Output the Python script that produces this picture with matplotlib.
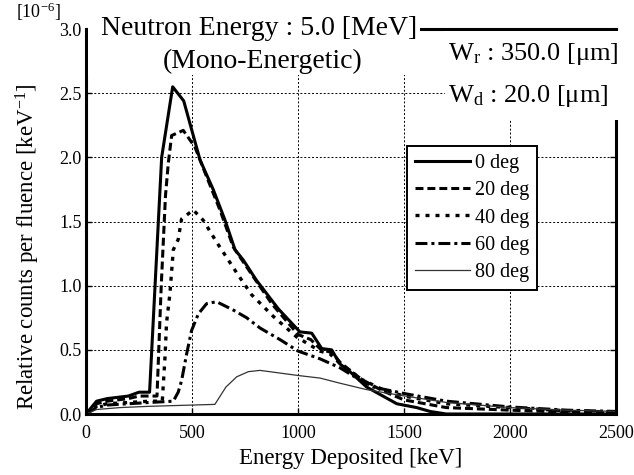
import numpy as np
import matplotlib
matplotlib.use("Agg")
import matplotlib.pyplot as plt
from matplotlib.patches import Rectangle
from matplotlib.ticker import FormatStrFormatter

# energy deposited [keV] and relative counts [1e-6 / keV] per incidence angle
e_0 = [0, 50, 100, 200, 250, 300, 357, 409, 461, 538, 600, 656, 703, 742, 805, 907,
       1009, 1065, 1112, 1159, 1198, 1245, 1324, 1466, 1560, 1623, 1700, 2500]
c_0 = [0, 0.10, 0.12, 0.14, 0.17, 0.17, 2.0, 2.55, 2.44, 1.98, 1.75, 1.51, 1.28, 1.2, 1.04, 0.82,
       0.64, 0.63, 0.51, 0.50, 0.39, 0.33, 0.21, 0.08, 0.05, 0.02, 0.0, 0.0]

e_20 = [0, 50, 100, 200, 250, 335, 355, 375, 388, 404, 459, 514, 569, 632, 695, 789, 876,
        1000, 1060, 1110, 1160, 1200, 1300, 1400, 1500, 1700, 2000, 2270, 2500]
c_20 = [0, 0.08, 0.10, 0.12, 0.14, 0.14, 1.0, 1.7, 1.95, 2.17, 2.21, 2.08, 1.85, 1.59, 1.30, 1.07, 0.86,
        0.62, 0.58, 0.50, 0.48, 0.40, 0.27, 0.18, 0.11, 0.05, 0.03, 0.015, 0.01]

e_40 = [0, 50, 100, 200, 300, 360, 373, 380, 396, 412, 435, 451, 506, 553, 616, 711, 781, 884,
        994, 1104, 1150, 1200, 1300, 1400, 1500, 1700, 2000, 2270, 2500]
c_40 = [0, 0.06, 0.08, 0.09, 0.10, 0.10, 0.45, 0.71, 0.94, 1.28, 1.36, 1.52, 1.59, 1.51, 1.34, 1.10, 0.93, 0.76,
        0.60, 0.49, 0.47, 0.39, 0.27, 0.19, 0.14, 0.08, 0.05, 0.025, 0.015]

e_60 = [0, 50, 100, 200, 300, 412, 435, 451, 475, 498, 530, 569, 616, 695, 758, 821, 915,
        1001, 1104, 1198, 1292, 1355, 1500, 1700, 2000, 2270, 2500]
c_60 = [0, 0.05, 0.07, 0.08, 0.09, 0.10, 0.17, 0.26, 0.47, 0.65, 0.78, 0.86, 0.875, 0.81, 0.75, 0.67, 0.58,
        0.49, 0.43, 0.36, 0.265, 0.21, 0.16, 0.10, 0.055, 0.03, 0.02]

e_80 = [0, 50, 160, 300, 608, 660, 711, 766, 821, 1001, 1104, 1198, 1324, 1466, 1700, 2000, 2270, 2500]
c_80 = [0, 0.035, 0.05, 0.06, 0.075, 0.21, 0.29, 0.33, 0.34, 0.30, 0.28, 0.24, 0.19, 0.15, 0.09, 0.05, 0.03, 0.02]

x_ticks = [0, 500, 1000, 1500, 2000, 2500]
y_ticks = [0.0, 0.5, 1.0, 1.5, 2.0, 2.5, 3.0]

plt.rcParams['font.family'] = ['Liberation Serif', 'DejaVu Serif']
plt.rcParams['mathtext.fontset'] = 'custom'
plt.rcParams['mathtext.rm'] = 'Liberation Serif'
plt.rcParams['mathtext.it'] = 'Liberation Serif:italic'


def main():
    fig = plt.figure(figsize=(6.34, 4.75), dpi=100)
    ax = fig.add_axes([0.1356, 0.1284, 0.836, 0.8105])

    ax.plot(e_0, c_0, color='black', lw=2.2, ls='-', label='0 deg')
    ax.plot(e_20, c_20, color='black', lw=2.2, ls=(0, (2.6, 1.3)), label='20 deg')
    ax.plot(e_40, c_40, color='black', lw=2.4, ls=(0, (1.2, 1.8)), label='40 deg')
    ax.plot(e_60, c_60, color='black', lw=2.2, ls=(0, (3.9, 1.3, 1.0, 1.3)), label='60 deg')
    ax.plot(e_80, c_80, color='0.2', lw=0.9, label='80 deg')

    ax.set_xlim(0, 2500)
    ax.set_ylim(0, 3)
    ax.set_xticks(x_ticks)
    ax.set_yticks(y_ticks)
    ax.yaxis.set_major_formatter(FormatStrFormatter('%.1f'))
    ax.grid(True, color='black', lw=0.7, ls=(0, (2, 2)))
    ax.tick_params(direction='in', length=4, width=1, top=True, right=True, labelsize=13)
    ax.tick_params(axis='x', pad=8)
    ax.tick_params(axis='y', pad=3)
    for s in ax.spines.values():
        s.set_linewidth(2.2)

    ax.set_xlabel('Energy Deposited [keV]', fontsize=16.5, labelpad=4)
    ax.set_ylabel('Relative counts per fluence [keV$^{-1}$]', fontsize=16.5)
    ax.yaxis.set_label_coords(-0.083, 0.434)

    leg = ax.legend(loc='upper left', bbox_to_anchor=(0.606, 0.696), borderaxespad=0,
                    fontsize=14.5, fancybox=False, edgecolor='black', framealpha=1,
                    handlelength=2.7, handletextpad=0.25, labelspacing=0.4, borderpad=0.4)
    leg.get_frame().set_linewidth(1.4)

    # white boxes behind the annotations (they hide the frame there)
    ax.add_patch(Rectangle((0.004, 0.8805), 0.626, 0.25, transform=ax.transAxes,
                           facecolor='white', edgecolor='none', zorder=4, clip_on=False))
    ax.add_patch(Rectangle((0.677, 0.764), 0.34, 0.231, transform=ax.transAxes,
                           facecolor='white', edgecolor='none', zorder=4, clip_on=False))

    ax.text(0.326, 0.984, 'Neutron Energy : 5.0 [MeV]', transform=ax.transAxes,
            ha='center', va='baseline', fontsize=20, zorder=6)
    ax.text(0.333, 0.899, '(Mono-Energetic)', transform=ax.transAxes,
            ha='center', va='baseline', fontsize=20, zorder=6)
    ax.text(0.683, 0.919, 'W$_{\\mathrm{r}}$ : 350.0 [\u03bcm]', transform=ax.transAxes,
            ha='left', va='baseline', fontsize=19, zorder=6)
    ax.text(0.683, 0.810, 'W$_{\\mathrm{d}}$ : 20.0 [\u03bcm]', transform=ax.transAxes,
            ha='left', va='baseline', fontsize=19, zorder=6)

    fig.text(0.096, 0.962, '[10$^{-6}$]', ha='right', va='baseline', fontsize=13)

    plt.savefig('out.png', dpi=100)


if __name__ == "__main__":
    main()
